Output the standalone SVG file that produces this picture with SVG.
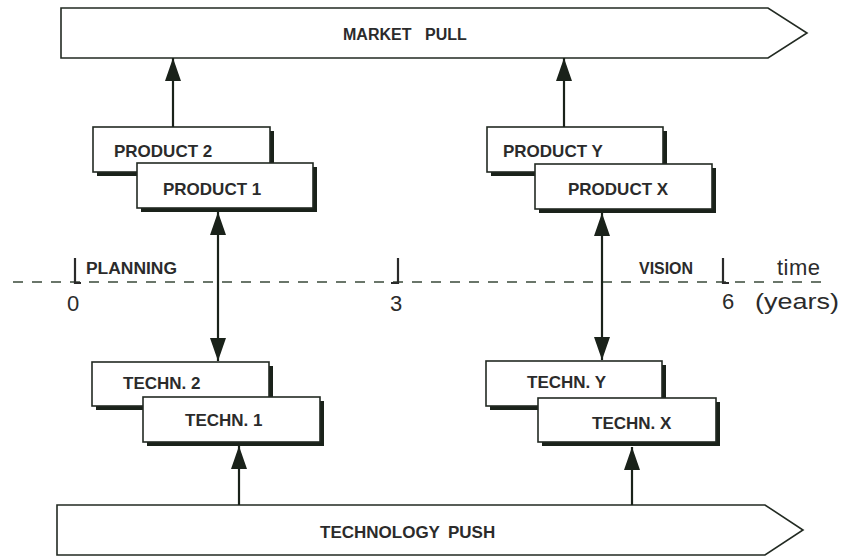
<svg xmlns="http://www.w3.org/2000/svg" width="843" height="556" viewBox="0 0 843 556">
  <defs>
    <style>
      .lbl { font-family: "Liberation Sans", Arial, sans-serif; font-weight: bold; font-size: 17px; fill: #2b2b2b; }
      .band { fill: #ffffff; stroke: #222a22; stroke-width: 1.6; }
      .box { fill: #ffffff; stroke: #222a22; stroke-width: 1.6; }
      .shadow { fill: #1a221a; }
      .conn { stroke: #1a221a; stroke-width: 2.2; fill: none; }
      .axis { stroke: #3a4a3a; stroke-width: 1.6; stroke-dasharray: 10 9; fill: none; }
      .tick { stroke: #2a2a2a; stroke-width: 2.2; fill: none; }
      .axlbl { font-family: "Liberation Sans", Arial, sans-serif; font-size: 22px; fill: #2b2b2b; }
      .phase { font-family: "Liberation Sans", Arial, sans-serif; font-weight: bold; font-size: 16px; fill: #2b2b2b; }
    </style>
    <marker id="head" viewBox="0 0 23 16" refX="23" refY="8" markerWidth="23" markerHeight="16" markerUnits="userSpaceOnUse" orient="auto-start-reverse">
      <path d="M0,0 L23,8 L0,16 Z" fill="#1a221a"/>
    </marker>
  </defs>

  <!-- pull / push bands -->
  <g id="market-pull">
    <path class="band" d="M61,8 L768,8 L807,33 L768,58 L61,58 Z"/>
    <text class="lbl" style="font-size:16px" y="40"><tspan x="343">MARKET</tspan><tspan x="425">PULL</tspan></text>
  </g>
  <g id="technology-push">
    <path class="band" d="M57,505 L765,505 L803,530 L765,555 L57,555 Z"/>
    <text class="lbl" y="538"><tspan x="320">TECHNOLOGY</tspan><tspan x="448">PUSH</tspan></text>
  </g>

  <!-- time axis -->
  <g id="time-axis">
    <line class="axis" x1="13" y1="282" x2="828" y2="282"/>
    <path class="tick" d="M75,258 V283 H81"/>
    <path class="tick" d="M398,258 V283 H391"/>
    <path class="tick" d="M723,258 V283 H729"/>
    <text class="axlbl" x="73" y="311" text-anchor="middle">0</text>
    <text class="axlbl" x="396" y="311" text-anchor="middle">3</text>
    <text class="axlbl" x="728" y="309" text-anchor="middle">6</text>
    <text class="phase" x="86" y="274" textLength="91" lengthAdjust="spacingAndGlyphs">PLANNING</text>
    <text class="phase" x="639" y="274" textLength="54" lengthAdjust="spacingAndGlyphs">VISION</text>
    <text class="axlbl" x="777" y="275" textLength="43" lengthAdjust="spacing">time</text>
    <text class="axlbl" x="755" y="309" textLength="84" lengthAdjust="spacingAndGlyphs">(years)</text>
  </g>

  <!-- product boxes -->
  <g id="product-2">
    <rect class="shadow" x="97" y="131" width="177" height="45"/>
    <rect class="box" x="93" y="127" width="177" height="45"/>
    <text class="lbl" x="114" y="157">PRODUCT 2</text>
  </g>
  <g id="product-1">
    <rect class="shadow" x="141" y="167" width="176" height="45"/>
    <rect class="box" x="137" y="163" width="176" height="45"/>
    <text class="lbl" x="163" y="195">PRODUCT 1</text>
  </g>
  <g id="product-y">
    <rect class="shadow" x="491" y="131" width="176" height="45"/>
    <rect class="box" x="487" y="127" width="176" height="45"/>
    <text class="lbl" x="503" y="157">PRODUCT Y</text>
  </g>
  <g id="product-x">
    <rect class="shadow" x="539" y="168" width="177" height="45"/>
    <rect class="box" x="535" y="164" width="177" height="45"/>
    <text class="lbl" x="568" y="195">PRODUCT X</text>
  </g>

  <!-- technology boxes -->
  <g id="techn-2">
    <rect class="shadow" x="96" y="366" width="177" height="44"/>
    <rect class="box" x="92" y="362" width="177" height="44"/>
    <text class="lbl" x="123" y="389">TECHN. 2</text>
  </g>
  <g id="techn-1">
    <rect class="shadow" x="147" y="401" width="177" height="45"/>
    <rect class="box" x="143" y="397" width="177" height="45"/>
    <text class="lbl" x="185" y="426">TECHN. 1</text>
  </g>
  <g id="techn-y">
    <rect class="shadow" x="490" y="365" width="176" height="45"/>
    <rect class="box" x="486" y="361" width="176" height="45"/>
    <text class="lbl" x="527" y="388">TECHN. Y</text>
  </g>
  <g id="techn-x">
    <rect class="shadow" x="542" y="402" width="178" height="44"/>
    <rect class="box" x="538" y="398" width="178" height="44"/>
    <text class="lbl" x="592" y="429">TECHN. X</text>
  </g>

  <!-- connectors -->
  <g id="connectors">
    <line class="conn" x1="173" y1="127" x2="173" y2="58" marker-end="url(#head)"/>
    <line class="conn" x1="564" y1="127" x2="564" y2="58" marker-end="url(#head)"/>
    <line class="conn" x1="218" y1="212" x2="218" y2="361" marker-start="url(#head)" marker-end="url(#head)"/>
    <line class="conn" x1="602" y1="213" x2="602" y2="360" marker-start="url(#head)" marker-end="url(#head)"/>
    <line class="conn" x1="239" y1="505" x2="239" y2="446" marker-end="url(#head)"/>
    <line class="conn" x1="632" y1="505" x2="632" y2="447" marker-end="url(#head)"/>
  </g>
</svg>
